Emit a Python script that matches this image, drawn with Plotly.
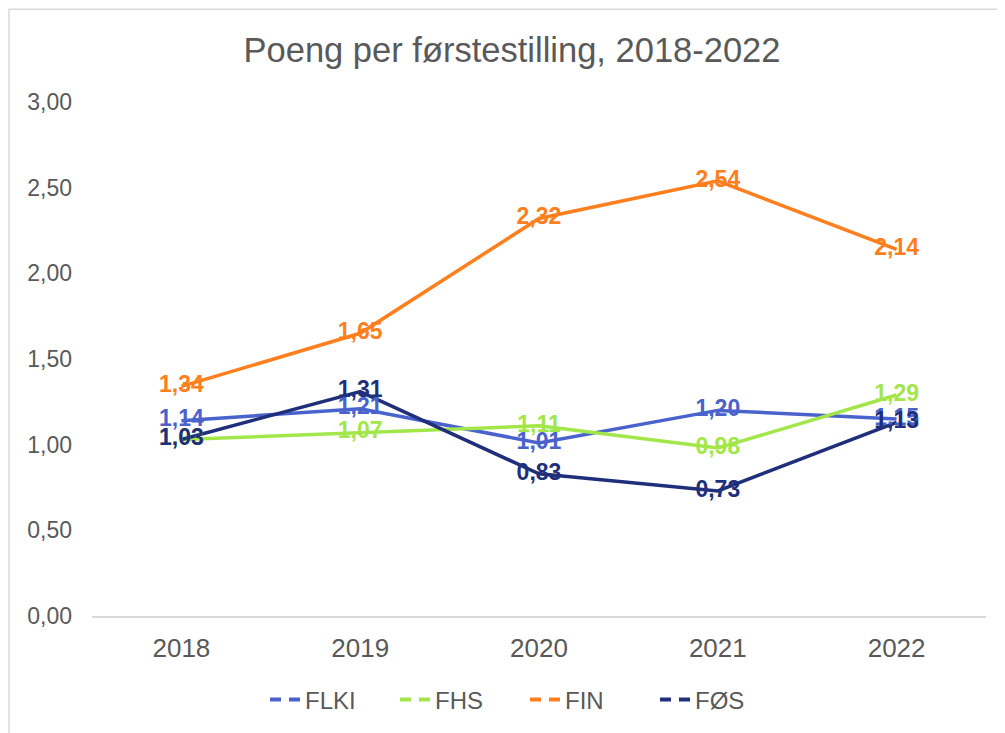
import plotly.graph_objects as go

years = ["2018", "2019", "2020", "2021", "2022"]
series_names = ["FLKI", "FHS", "FIN", "FØS"]
flki = [1.14, 1.21, 1.01, 1.20, 1.15]
fhs = [1.03, 1.07, 1.11, 0.98, 1.29]
fin = [1.34, 1.65, 2.32, 2.54, 2.14]
fos = [1.03, 1.31, 0.83, 0.73, 1.13]
colors = ["#4A63CC", "#A3E64A", "#FF7F1E", "#1F2F7A"]
y_ticks = [0, 0.5, 1.0, 1.5, 2.0, 2.5, 3.0]
y_tick_labels = ["0,00", "0,50", "1,00", "1,50", "2,00", "2,50", "3,00"]

values = [flki, fhs, fin, fos]
FONT = "Liberation Sans, Arial"

# page offset from the default body margin of the html page
OFF = 8
W, H = 1005 - OFF, 733 - OFF
L, R, T, B = 92 - OFF, 19, 102 - OFF, 733 - 617
PW, PH = W - L - R, H - T - B

fig = go.Figure()
for name, vals, col in zip(series_names, values, colors):
    fig.add_trace(go.Scatter(
        x=years, y=vals, name=name, mode="lines", showlegend=False,
        line=dict(color=col, width=3.5), hoverinfo="skip",
    ))
for name, vals, col in zip(series_names, values, colors):
    fig.add_trace(go.Scatter(
        x=years, y=vals, mode="text", showlegend=False,
        text=[f"{v:.2f}".replace(".", ",") for v in vals],
        textposition="middle center",
        textfont=dict(family=FONT, size=23, color=col, weight="bold"),
        hoverinfo="skip",
    ))
# legend entries (dashed symbol like the reference legend)
for name, col in zip(series_names, colors):
    fig.add_trace(go.Scatter(
        x=[years[0]], y=[None], name=name, mode="lines",
        line=dict(color=col, width=4, dash="11px,8px"), hoverinfo="skip",
    ))

fig.update_layout(
    width=W, height=H,
    paper_bgcolor="white", plot_bgcolor="white",
    margin=dict(l=L, r=R, t=T, b=B),
    title=dict(text="Poeng per førstestilling, 2018-2022", x=(512 - OFF) / W, xanchor="center",
               y=1 - (50 - OFF) / H, yanchor="middle",
               font=dict(family=FONT, size=34.5, color="#595959")),
    font=dict(family=FONT, size=23, color="#595959"),
    xaxis=dict(type="category", range=[-0.5, 4.5], showgrid=False, showline=True,
               linecolor="#D9D9D9", linewidth=1.5, ticks="",
               tickfont=dict(size=26, color="#595959"),
               ticklabelstandoff=8, zeroline=False),
    yaxis=dict(range=[0, 3], tickvals=y_ticks, ticktext=y_tick_labels, showgrid=False,
               zeroline=False, showline=False, ticks="",
               tickfont=dict(size=23, color="#595959"), ticklabelstandoff=19),
    legend=dict(orientation="h", x=(525 - OFF - L) / PW, xanchor="center",
                y=-(700 - 617) / PH, yanchor="middle", entrywidth=85,
                font=dict(size=24, color="#595959"), tracegroupgap=0),
    shapes=[dict(type="rect", xref="paper", yref="paper",
                 x0=(1 - L) / PW, x1=(1000 - OFF - L) / PW,
                 y0=-(B + 10) / PH, y1=1 + (T - 1) / PH,
                 line=dict(color="#D9D9D9", width=1.5), fillcolor="rgba(0,0,0,0)", layer="below")],
)

fig.write_html("out.html")
